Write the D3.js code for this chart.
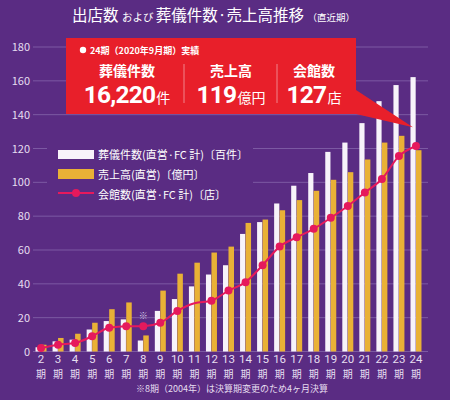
<!DOCTYPE html>
<html>
<head>
<meta charset="utf-8">
<script src="https://cdn.jsdelivr.net/npm/d3@7"></script>
<style>
  html, body { margin: 0; padding: 0; background: #5a2c83; }
  svg { display: block; font-family: "Noto Sans CJK JP", "Noto Sans", sans-serif; }
</style>
</head>
<body>
<svg id="chart" width="450" height="400"></svg>
<script>
// periods (期)
const periods = ['2','3','4','5','6','7','8','9','10','11','12','13','14','15','16','17','18','19','20','21','22','23','24'];
// 葬儀件数（直営・FC計）〔百件〕
const funerals = [2.5, 6, 7, 13, 18, 19, 6.5, 24, 31, 38.5, 45.5, 51, 69.5, 76.5, 87.5, 98, 105.5, 118, 123.5, 135, 148, 157.5, 162.2];
// 売上高（直営）〔億円〕
const sales = [4, 8, 10.5, 17, 25, 29, 9.5, 36, 46, 52.5, 58.5, 62, 76, 78, 83.5, 89.5, 95, 101.5, 106, 113.5, 123.5, 127.5, 119];
// 会館数（直営・FC計）〔店〕
const halls = [2, 4, 5, 9, 14, 15, 15, 17, 24, 28.5, 30, 36, 41, 51, 62, 67.5, 72.5, 79, 86, 94, 102, 115.5, 121.5];
// no marker drawn at 11期 in the original
const hallsNoDot = ['11'];
const yTicks = [0, 20, 40, 60, 80, 100, 120, 140, 160, 180];
const legendItems = ['葬儀件数(直営·FC 計)〔百件〕', '売上高(直営)〔億円〕', '会館数(直営·FC 計)〔店〕'];
const callout = [
  { label: '葬儀件数', value: '16,220', unit: '件' },
  { label: '売上高', value: '119', unit: '億円' },
  { label: '会館数', value: '127', unit: '店' }
];

const colors = {
  bg: '#5a2c83',
  grid: '#7c59a3',
  white: '#f7f3fa',
  gold: '#e9b136',
  line: '#e6195c',
  red: '#e81f2a',
  tick: '#e6def0'
};

const svg = d3.select('#chart');
svg.append('rect').attr('width', 450).attr('height', 400).attr('fill', colors.bg);

const x = d3.scaleBand().domain(periods).range([32.5, 424.5]).padding(0);
const y = d3.scaleLinear().domain([0, 180]).range([351.5, 47]);
const cx = d => x(d) + x.bandwidth() / 2;
const barW = 5.5;

// grid
svg.append('g').selectAll('line')
  .data(yTicks)
  .join('line')
  .attr('x1', 33).attr('x2', 428)
  .attr('y1', d => y(d)).attr('y2', d => y(d))
  .attr('stroke', colors.grid)
  .attr('stroke-width', 1);

// y labels
svg.append('g').selectAll('text')
  .data(yTicks)
  .join('text')
  .attr('x', 30)
  .attr('y', d => y(d) + 4)
  .attr('text-anchor', 'end')
  .attr('font-size', 11)
  .attr('fill', colors.tick)
  .text(d => d);

// legend backdrop hides grid behind it
svg.append('rect')
  .attr('x', 47).attr('y', 140).attr('width', 206).attr('height', 62)
  .attr('fill', colors.bg);

// bars
svg.append('g').selectAll('rect')
  .data(periods)
  .join('rect')
  .attr('x', d => cx(d) - barW)
  .attr('y', (d, i) => y(funerals[i]))
  .attr('width', barW - 0.3)
  .attr('height', (d, i) => y(0) - y(funerals[i]))
  .attr('fill', colors.white);

svg.append('g').selectAll('rect')
  .data(periods)
  .join('rect')
  .attr('x', d => cx(d))
  .attr('y', (d, i) => y(sales[i]))
  .attr('width', barW)
  .attr('height', (d, i) => y(0) - y(sales[i]))
  .attr('fill', colors.gold);

// halls line
const line = d3.line()
  .x(d => cx(d))
  .y((d, i) => y(halls[i]))
  .curve(d3.curveMonotoneX);
svg.append('path')
  .datum(periods)
  .attr('d', line)
  .attr('fill', 'none')
  .attr('stroke', colors.line)
  .attr('stroke-width', 2);
svg.append('g').selectAll('circle')
  .data(periods.filter(p => !hallsNoDot.includes(p)))
  .join('circle')
  .attr('cx', d => cx(d))
  .attr('cy', d => y(halls[periods.indexOf(d)]))
  .attr('r', 4)
  .attr('fill', colors.line);

// ※ mark on 8期
svg.append('text')
  .attr('x', cx('8')).attr('y', y(sales[6]) - 16)
  .attr('text-anchor', 'middle')
  .attr('font-size', 9)
  .attr('fill', '#d9cce8')
  .text('※');

// x labels
const xl = svg.append('g').selectAll('g')
  .data(periods)
  .join('g')
  .attr('transform', d => `translate(${cx(d)},0)`);
xl.append('text')
  .attr('y', 363)
  .attr('text-anchor', 'middle')
  .attr('font-size', 11.5)
  .attr('font-family', 'Roboto, "Noto Sans", sans-serif')
  .attr('fill', colors.tick)
  .text(d => d);
xl.append('text')
  .attr('y', 377.5)
  .attr('text-anchor', 'middle')
  .attr('font-size', 10)
  .attr('fill', colors.tick)
  .text('期');

// footnote
svg.append('text')
  .attr('x', 232).attr('y', 392)
  .attr('text-anchor', 'middle')
  .attr('font-size', 9)
  .attr('fill', colors.tick)
  .text('※8期（2004年）は決算期変更のため4ヶ月決算');

// legend
const lg = svg.append('g').attr('transform', 'translate(58,150)');
lg.append('rect').attr('x', 0).attr('y', 0).attr('width', 36).attr('height', 9).attr('fill', colors.white);
lg.append('rect').attr('x', 0).attr('y', 19).attr('width', 36).attr('height', 10).attr('fill', colors.gold);
lg.append('line').attr('x1', 0).attr('x2', 36).attr('y1', 43).attr('y2', 43)
  .attr('stroke', colors.line).attr('stroke-width', 2);
lg.append('circle').attr('cx', 18).attr('cy', 43).attr('r', 4).attr('fill', colors.line);
lg.selectAll('text')
  .data(legendItems)
  .join('text')
  .attr('x', 40)
  .attr('y', (d, i) => 9 + i * 20)
  .attr('font-size', 11)
  .attr('fill', '#ffffff')
  .text(d => d);

// title
const title = svg.append('text')
  .attr('x', 72).attr('y', 21)
  .attr('fill', '#ffffff')
  .attr('font-size', 15.5);
title.append('tspan').text('出店数 ');
title.append('tspan').attr('font-size', 10.5).text('および ');
title.append('tspan').text('葬儀件数·売上高推移 ');
title.append('tspan').attr('font-size', 9.5).text('（直近期）');

// callout box with pointer toward 24期
const px = cx('24') - 3, py = y(132.5);
svg.append('path')
  .attr('d', `M66,38H356V90L${px},${py}L356,114H66Z`)
  .attr('fill', colors.red);

svg.append('circle').attr('cx', 83).attr('cy', 50).attr('r', 3.2).attr('fill', '#ffffff');
svg.append('text')
  .attr('x', 90).attr('y', 53.5)
  .attr('font-size', 9)
  .attr('font-weight', 'bold')
  .attr('fill', '#ffffff')
  .text('24期（2020年9月期）実績');

const colX = [127, 231, 314];
const cg = svg.append('g').selectAll('g')
  .data(callout)
  .join('g')
  .attr('transform', (d, i) => `translate(${colX[i]},0)`);
cg.append('text')
  .attr('y', 75.5)
  .attr('text-anchor', 'middle')
  .attr('font-size', 14)
  .attr('font-weight', 'bold')
  .attr('fill', '#ffffff')
  .text(d => d.label);
const vt = cg.append('text')
  .attr('y', 103)
  .attr('text-anchor', 'middle')
  .attr('fill', '#ffffff');
vt.append('tspan')
  .attr('font-family', 'Roboto, "Liberation Sans", sans-serif')
  .attr('font-weight', 'bold')
  .attr('font-size', 24.5)
  .attr('letter-spacing', -0.8)
  .text(d => d.value);
vt.append('tspan')
  .attr('font-size', 14)
  .attr('dx', 1)
  .text(d => d.unit);

svg.append('g').selectAll('line')
  .data([184, 277])
  .join('line')
  .attr('x1', d => d).attr('x2', d => d)
  .attr('y1', 64).attr('y2', 103)
  .attr('stroke', '#f3a0a4')
  .attr('stroke-width', 0.8);
</script>
</body>
</html>
